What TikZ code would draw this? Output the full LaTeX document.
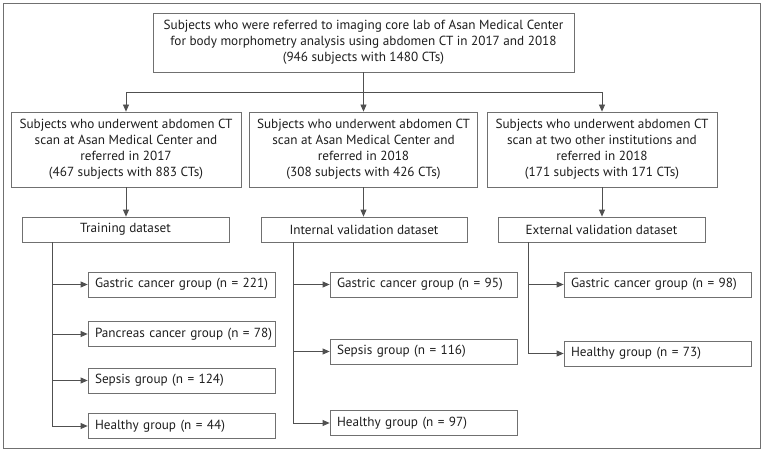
\documentclass[tikz,border=0pt]{standalone}
\usepackage{fontspec}
\setmainfont{PT Sans}
\usetikzlibrary{arrows.meta}
\definecolor{linec}{HTML}{505050}
\definecolor{boxc}{HTML}{707070}
\definecolor{txt}{HTML}{1E1E1E}
\tikzset{
  bx/.style={draw=boxc, line width=0.8pt, fill=white, inner sep=0pt, text=txt,
    font=\fontsize{13.2}{16}\selectfont, align=center},
  bigbox/.style={bx, minimum height=75pt},
  dsbox/.style={bx, minimum height=25pt},
  grp/.style={bx, minimum height=25pt, minimum width=187pt, text width=173pt, align=left},
  arr/.style={draw=linec, line width=0.8pt, -{Triangle[length=7pt,width=6pt]}},
  ln/.style={draw=linec, line width=0.8pt},
}
\begin{document}
\begin{tikzpicture}[x=1pt,y=-1pt]
\useasboundingbox (0,0) rectangle (764,452);
\draw[draw=boxc, line width=0.8pt] (3,3) rectangle (760,448);
% top
\node[bx, minimum width=421pt, minimum height=59pt] (top) at (363.5,42.5)
  {Subjects who were referred to imaging core lab of Asan Medical Center\\
   for body morphometry analysis using abdomen CT in 2017 and 2018\\
   (946 subjects with 1480 CTs)};
% second row
\node[bigbox, minimum width=230pt] (s1) at (126,149.5)
  {Subjects who underwent abdomen CT\\scan at Asan Medical Center and\\referred in 2017\\(467 subjects with 883 CTs)};
\node[bigbox, minimum width=228pt] (s2) at (363.5,149.5)
  {Subjects who underwent abdomen CT\\scan at Asan Medical Center and\\referred in 2018\\(308 subjects with 426 CTs)};
\node[bigbox, minimum width=230pt] (s3) at (602,149.5)
  {Subjects who underwent abdomen CT\\scan at two other institutions and\\referred in 2018\\(171 subjects with 171 CTs)};
% datasets
\node[dsbox, minimum width=207pt] (d1) at (125.5,229.5) {Training dataset};
\node[dsbox, minimum width=206pt] (d2) at (364,229.5) {Internal validation dataset};
\node[dsbox, minimum width=207pt] (d3) at (601.5,229.5) {External validation dataset};
% groups
\node[grp] (g11) at (181.5,284.5) {\mbox{Gastric cancer group (n = 221)}};
\node[grp] (g12) at (181.5,334) {\mbox{Pancreas cancer group (n = 78)}};
\node[grp] (g13) at (181.5,380.5) {Sepsis group (n = 124)};
\node[grp] (g14) at (181.5,426) {Healthy group (n = 44)};
\node[grp] (g21) at (423.5,284.5) {Gastric cancer group (n = 95)};
\node[grp] (g22) at (423.5,351.5) {Sepsis group (n = 116)};
\node[grp] (g23) at (423.5,423) {Healthy group (n = 97)};
\node[grp] (g31) at (657.5,284.5) {Gastric cancer group (n = 98)};
\node[grp] (g32) at (657.5,353.5) {Healthy group (n = 73)};
% connectors
\coordinate (j) at (363.5,92);
\draw[arr] (top.south) -- (s2.north);
\draw[arr] (j) -| (s1.north);
\draw[arr] (j) -| (s3.north);
\draw[arr] (s1.south) -- (d1.north -| s1.south);
\draw[arr] (s2.south) -- (d2.north -| s2.south);
\draw[arr] (s3.south) -- (d3.north -| s3.south);
\coordinate (b1) at (52,242);
\coordinate (b2) at (293,242);
\coordinate (b3) at (528,242);
\draw[arr] (b1) |- (g11.west);
\draw[arr] (b1) |- (g12.west);
\draw[arr] (b1) |- (g13.west);
\draw[arr] (b1) |- (g14.west);
\draw[arr] (b2) |- (g21.west);
\draw[arr] (b2) |- (g22.west);
\draw[arr] (b2) |- (g23.west);
\draw[arr] (b3) |- (g31.west);
\draw[arr] (b3) |- (g32.west);
\end{tikzpicture}
\end{document}
